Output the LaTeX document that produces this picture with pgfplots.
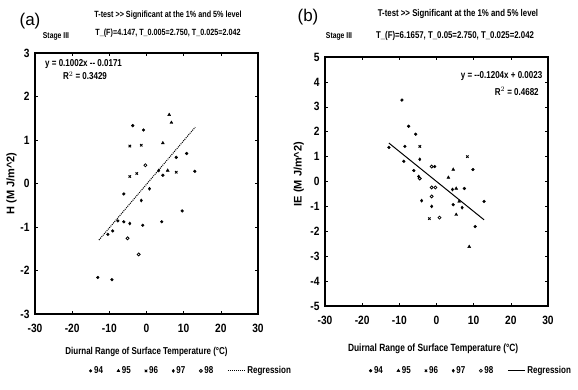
\documentclass[border=0pt]{standalone}
\usepackage{pgfplots}
\pgfplotsset{compat=1.18}
\usepackage{fontspec}
\setmainfont{Liberation Sans}
\newfontfamily\cf[FakeStretch=0.8]{Liberation Sans}
\newfontfamily\tf[FakeStretch=0.85]{Liberation Sans}
\begin{document}
\begin{tikzpicture}
\path[use as bounding box] (0pt,0pt) rectangle (578pt,389pt);
\pgfplotsset{
  every axis/.append style={
    scale only axis,
    xmin=-30, xmax=30,
    xtick={-30,-20,...,30},
    axis line style={line width=1.1pt},
    tick style={black, line width=0.6pt},
    tick align=inside,
    major tick length=3pt,
    ticklabel style={font=\tf\bfseries\fontsize{12}{13}\selectfont},
    xticklabel style={yshift=-7pt},
    yticklabel style={xshift=-2pt},
    /pgf/number format/assume math mode=true,
    clip=false,
  },
  y94/.style={only marks, mark=*, mark size=1.4pt, black},
  y95/.style={only marks, mark=triangle*, mark size=1.7pt, black},
  y96/.style={only marks, mark=x, mark size=1.7pt, black, mark options={line width=0.9pt}},
  y97/.style={only marks, mark=diamond*, mark size=1.6pt, black},
  y98/.style={only marks, mark=o, mark size=1.5pt, black, mark options={line width=0.8pt}},
}
% ---------------- (a) ----------------
\begin{axis}[
  at={(35pt,75pt)}, anchor=south west,
  width=223pt, height=261pt,
  ymin=-3, ymax=3, ytick={-3,...,3},
  xlabel={Diurnal Range of Surface Temperature (\textdegree C)},
  xlabel style={font=\cf\bfseries\fontsize{10}{11}\selectfont, at={(axis description cs:0.5,-0.146)}, anchor=center},
  ylabel={H (M J/m\^{}2)},
  ylabel style={font=\bfseries\fontsize{11}{12}\selectfont, at={(axis description cs:-0.105,0.5)}, anchor=center},
  legend columns=-1,
  legend style={draw=none, fill=none, at={(axis description cs:0.70,-0.218)}, anchor=center,
    font=\cf\bfseries\fontsize{10}{11}\selectfont,
    /tikz/every even column/.append style={column sep=12pt}},
]
\addplot[y94] coordinates {(-3.7,1.33) (-0.8,1.23) (10.8,0.69) (8,0.6) (4.4,0.19) (13,0.28) (-6.1,-0.24) (9.6,-0.63) (-7.7,-0.86) (-6.1,-0.88) (-1,-0.96) (4.1,-0.88) (-9.1,-1.09) (-10.4,-1.17) (-13.1,-2.16) (-9.3,-2.21)};
\addlegendentry{94}
\addplot[y95] coordinates {(6.1,1.58) (6.7,1.4) (4.4,0.93) (5.7,0.3)};
\addlegendentry{95}
\addplot[y96] coordinates {(-4.5,0.86) (-1.4,0.88) (-2.6,0.23) (-4.5,0.16) (8,0.26)};
\addlegendentry{96}
\addplot[y97] coordinates {(3.3,0.3) (0.8,-0.12) (-1.4,-0.39) (-4.5,-0.92)};
\addlegendentry{97}
\addplot[y98] coordinates {(-0.3,0.42) (-5.1,-1.26) (-2.1,-1.63)};
\addlegendentry{98}
\addplot[black, densely dotted, line width=1pt] coordinates {(-12.8,-1.3) (13.1,1.295)};
\addlegendentry{Regression}
\node[font=\cf\bfseries\fontsize{10}{11}\selectfont, anchor=west] at (rel axis cs:0.03,0.958) {y = 0.1002x -- 0.0171};
\node[font=\cf\bfseries\fontsize{10}{11}\selectfont, anchor=west] at (rel axis cs:0.11,0.912) {R$^2$ = 0.3429};
\end{axis}
% ---------------- (b) ----------------
\begin{axis}[
  at={(325pt,83pt)}, anchor=south west,
  width=223pt, height=249pt,
  ymin=-5, ymax=5, ytick={-5,...,5},
  xlabel={Duirnal Range of Surface Temperature (\textdegree C)},
  xlabel style={font=\cf\bfseries\fontsize{10.5}{11}\selectfont, at={(axis description cs:0.485,-0.173)}, anchor=center},
  ylabel={IE (M J/m\^{}2)},
  ylabel style={font=\bfseries\fontsize{11}{12}\selectfont, at={(axis description cs:-0.118,0.53)}, anchor=center},
  legend columns=-1,
  legend style={draw=none, fill=none, at={(axis description cs:0.655,-0.26)}, anchor=center,
    font=\cf\bfseries\fontsize{10}{11}\selectfont,
    /tikz/every even column/.append style={column sep=12pt}},
]
\addplot[y94] coordinates {(-9.3,3.27) (-7.5,2.22) (-5.6,1.9) (-12.8,1.37) (-8.5,1.41) (-8.8,0.81) (-6.1,0.44) (-0.5,0.6) (9.8,0.48) (7.5,-0.28) (4.5,-0.93) (12.8,-0.8) (10.4,-1.81)};
\addlegendentry{94}
\addplot[y95] coordinates {(4.5,0.48) (3.2,0.16) (5.3,-0.28) (6.1,-0.8) (5.3,-1.33) (8.8,-2.62)};
\addlegendentry{95}
\addplot[y96] coordinates {(8.3,1.0) (-1.9,-1.49) (-4.5,1.41)};
\addlegendentry{96}
\addplot[y97] coordinates {(-4.5,0.89) (-4.8,0.2) (-4,-0.77) (-1.3,-1.0) (6.9,-1.05) (4.3,-0.32)};
\addlegendentry{97}
\addplot[y98] coordinates {(-1.3,0.6) (-4.5,0.12) (-1.3,-0.24) (-0.3,-0.24) (-1.3,-0.6) (0.8,-1.45)};
\addlegendentry{98}
\addplot[black, line width=1pt] coordinates {(-12.8,1.543) (12.8,-1.539)};
\addlegendentry{Regression}
\node[font=\cf\bfseries\fontsize{10}{11}\selectfont, anchor=east] at (rel axis cs:0.99,0.925) {y = --0.1204x + 0.0023};
\node[font=\cf\bfseries\fontsize{10}{11}\selectfont, anchor=center] at (rel axis cs:0.86,0.862) {R$^2$ = 0.4682};
\end{axis}
% ---------------- titles ----------------
\node[font=\fontsize{17}{19}\selectfont] at (30pt,368pt) {(a)};
\node[font=\cf\bfseries\fontsize{8.5}{9}\selectfont] at (56pt,353pt) {Stage III};
\node[font=\cf\bfseries\fontsize{9}{10}\selectfont] at (168pt,374pt) {T-test {>}{>} Significant at the 1\% and 5\% level};
\node[font=\cf\bfseries\fontsize{9}{10}\selectfont] at (168pt,356pt) {T\_(F)=4.147, T\_0.005=2.750, T\_0.025=2.042};
\node[font=\fontsize{17}{19}\selectfont] at (308pt,372pt) {(b)};
\node[font=\cf\bfseries\fontsize{8.5}{9}\selectfont] at (339pt,353pt) {Stage III};
\node[font=\cf\bfseries\fontsize{9.8}{11}\selectfont] at (458pt,375pt) {T-test {>}{>} Significant at the 1\% and 5\% level};
\node[font=\cf\bfseries\fontsize{9.8}{11}\selectfont] at (455pt,353pt) {T\_(F)=6.1657, T\_0.05=2.750, T\_0.025=2.042};
\end{tikzpicture}
\end{document}
